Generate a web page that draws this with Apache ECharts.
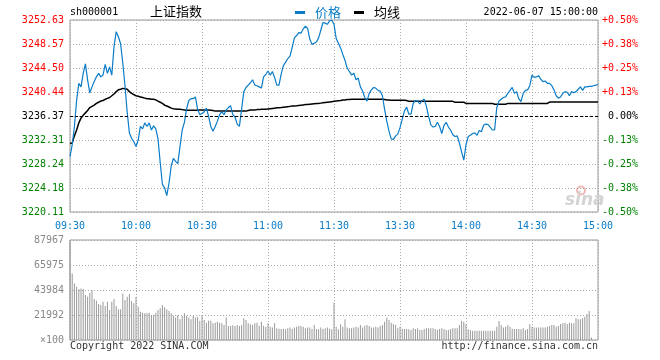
<!DOCTYPE html>
<html><head><meta charset="utf-8">
<script src="https://cdn.jsdelivr.net/npm/echarts@6/dist/echarts.min.js"></script>
<style>html,body{margin:0;padding:0;background:#fff}#c{width:660px;height:360px}</style>
</head><body><div id="c"></div>
<script>
const PRE_CLOSE = 3236.37;
const P_MIN = 3220.11, P_MAX = 3252.63, P_STEP = 4.065;
const priceTicks = ['3220.11','3224.18','3228.24','3232.31','3236.37','3240.44','3244.50','3248.57','3252.63'];
const pctTicks = ['-0.50%','-0.38%','-0.25%','-0.13%','0.00%','+0.13%','+0.25%','+0.38%','+0.50%'];
const timeLabels = ['09:30','10:00','10:30','11:00','11:30','13:30','14:00','14:30','15:00'];
const V_MAX = 87967, V_STEP = 21991.75;
const volTicks = ['\u00d7100','21992','43984','65975','87967'];

const price = [
3229.5,3231.5,3234.5,3239.0,3241.9,3241.3,3243.6,3245.2,3242.5,3240.3,
3241.3,3242.2,3243.0,3243.6,3243.0,3243.3,3245.1,3243.6,3244.7,3243.3,
3248.1,3250.65,3249.8,3248.6,3245.3,3241.5,3237.0,3233.5,3232.6,3232.0,
3231.2,3232.3,3234.6,3234.2,3235.2,3234.6,3235.2,3234.0,3234.7,3234.2,
3232.5,3228.5,3224.8,3224.2,3222.9,3225.0,3227.9,3229.2,3228.7,3228.3,
3231.2,3234.0,3235.3,3237.6,3239.0,3239.3,3239.3,3239.6,3237.5,3236.6,
3236.8,3237.1,3237.7,3236.3,3234.6,3233.8,3234.6,3235.5,3236.6,3237.1,
3236.6,3237.4,3237.8,3238.1,3236.6,3236.2,3235.0,3234.6,3237.5,3240.5,
3241.2,3241.6,3242.0,3242.5,3241.6,3241.5,3241.3,3241.1,3243.0,3243.4,
3244.0,3243.3,3243.9,3242.9,3241.6,3241.6,3243.5,3244.9,3245.5,3246.1,
3246.5,3248.0,3249.6,3250.0,3250.5,3250.4,3251.1,3251.6,3251.2,3249.4,
3248.5,3248.7,3248.9,3249.6,3250.9,3252.2,3252.1,3251.9,3252.5,3252.6,
3251.9,3249.5,3248.7,3247.9,3246.8,3245.8,3244.5,3243.9,3243.3,3243.6,
3242.5,3242.8,3241.3,3240.6,3239.5,3238.9,3240.2,3240.8,3241.2,3241.1,
3240.7,3240.6,3239.8,3237.5,3235.5,3233.8,3232.5,3232.4,3233.0,3233.3,
3234.4,3235.8,3237.2,3237.9,3236.7,3236.7,3238.5,3239.0,3238.9,3238.4,
3239.0,3239.2,3238.0,3236.3,3234.9,3234.5,3234.6,3235.3,3234.6,3233.4,
3234.8,3235.3,3234.5,3234.0,3233.2,3232.9,3233.0,3231.8,3230.3,3228.9,
3231.5,3232.9,3233.1,3233.4,3233.5,3233.1,3233.9,3233.7,3234.8,3235.0,
3234.9,3234.5,3234.0,3234.0,3237.8,3238.9,3239.2,3239.5,3239.6,3240.2,
3240.7,3241.2,3240.2,3240.5,3239.3,3238.8,3240.2,3240.7,3240.8,3241.5,
3243.3,3242.9,3243.0,3243.2,3242.6,3242.2,3242.3,3241.9,3241.9,3241.5,
3240.8,3239.8,3239.4,3239.6,3240.2,3240.5,3240.4,3239.8,3240.5,3240.3,
3240.5,3240.9,3241.3,3240.7,3241.3,3241.3,3241.4,3241.4,3241.5,3241.6,
3241.7];

const avg = [
3231.7,3231.8,3233.0,3234.0,3235.2,3236.0,3236.5,3236.9,3237.3,3237.8,
3238.0,3238.2,3238.5,3238.7,3238.9,3239.0,3239.2,3239.35,3239.5,3239.8,
3240.1,3240.5,3240.8,3240.9,3241.05,3241.0,3240.9,3240.5,3240.2,3240.0,
3239.8,3239.7,3239.6,3239.5,3239.4,3239.3,3239.3,3239.2,3239.2,3239.1,
3238.9,3238.7,3238.5,3238.2,3238.06,3237.9,3237.7,3237.6,3237.55,3237.5,
3237.5,3237.45,3237.4,3237.35,3237.35,3237.35,3237.35,3237.35,3237.35,3237.4,
3237.4,3237.4,3237.4,3237.4,3237.35,3237.3,3237.2,3237.2,3237.2,3237.2,
3237.2,3237.2,3237.2,3237.2,3237.2,3237.2,3237.2,3237.2,3237.2,3237.2,
3237.2,3237.3,3237.4,3237.4,3237.4,3237.45,3237.45,3237.5,3237.5,3237.5,
3237.55,3237.6,3237.65,3237.7,3237.75,3237.78,3237.8,3237.85,3237.9,3237.95,
3238.0,3238.05,3238.06,3238.1,3238.15,3238.2,3238.25,3238.3,3238.3,3238.35,
3238.4,3238.45,3238.5,3238.5,3238.55,3238.6,3238.65,3238.7,3238.75,3238.8,
3238.85,3238.9,3238.95,3239.0,3239.08,3239.1,3239.15,3239.15,3239.2,3239.2,
3239.2,3239.2,3239.2,3239.2,3239.2,3239.2,3239.2,3239.2,3239.2,3239.2,
3239.2,3239.2,3239.2,3239.15,3239.1,3239.08,3239.05,3239.02,3239.02,3239.02,
3239.02,3239.02,3239.02,3239.0,3238.85,3238.85,3238.85,3238.85,3238.85,3238.85,
3238.85,3238.85,3238.85,3238.85,3238.85,3238.85,3238.85,3238.85,3238.85,3238.85,
3238.85,3238.85,3238.85,3238.85,3238.85,3238.7,3238.7,3238.7,3238.7,3238.7,
3238.5,3238.5,3238.5,3238.5,3238.5,3238.5,3238.5,3238.5,3238.5,3238.5,
3238.5,3238.5,3238.5,3238.35,3238.35,3238.35,3238.35,3238.35,3238.35,3238.5,
3238.5,3238.5,3238.5,3238.5,3238.5,3238.5,3238.5,3238.5,3238.5,3238.5,
3238.5,3238.5,3238.5,3238.5,3238.5,3238.5,3238.5,3238.5,3238.74,3238.74,
3238.74,3238.74,3238.74,3238.74,3238.74,3238.74,3238.74,3238.74,3238.74,3238.74,
3238.74,3238.74,3238.74,3238.74,3238.74,3238.74,3238.74,3238.74,3238.74,3238.74,
3238.74];

const volume = [
87967,58600,49800,46900,44600,45200,44900,39600,38100,41600,
44000,36100,34600,31700,30800,33700,29900,33700,26400,33700,
36100,29900,27000,27000,41000,35200,38100,40500,34300,32300,
38100,29300,24900,24000,23500,23500,24000,22000,22000,24000,
26400,27900,30800,28700,27000,25500,23500,21100,19900,22000,
18200,21100,23500,21100,19900,18200,21100,19900,20500,17000,
22000,17600,15200,17000,17000,14700,15200,16100,15200,14700,
13200,19900,12300,12300,12900,12300,13200,12300,13200,19100,
17600,14700,13800,13200,14700,15200,12600,16100,12600,11700,
14700,11700,11100,14700,10300,10000,9700,10000,9400,10300,
11100,10000,11100,11700,12600,12300,11700,10300,10900,11100,
9700,13200,9700,9400,10900,9700,10300,11100,10000,9400,
32800,11700,9400,13800,11700,18200,11100,10300,10300,11100,
11700,11100,13200,10900,12600,13200,12300,10900,11100,11700,
11100,12300,13200,16100,19900,17600,15200,14100,13200,10300,
11700,10000,9700,9700,9400,8800,10300,9700,10300,8800,
8800,9700,10300,10300,10300,10300,9700,9100,9700,10300,
9700,8800,8800,9700,10300,10300,10300,13200,17000,16100,
13800,9400,8800,8200,8200,8200,8200,8200,8200,8200,
8200,8200,8200,8200,11700,16700,13200,10900,11700,13200,
11700,10000,9700,9700,9700,9400,10300,8800,9700,13800,
11700,10900,10900,11100,11100,10900,10900,11700,12300,13200,
13200,11700,12300,14100,14700,15200,14100,15200,14700,14700,
19100,18200,18200,19100,20500,22900,25500,2300,null,null,
null];

// minute categories 09:30..11:30, 13:01..15:00
const cats = [];
for (let m = 0; m <= 240; m++) {
  const t = m <= 120 ? 570 + m : 780 + (m - 120);
  const h = Math.floor(t / 60), mi = t % 60;
  cats.push((h < 10 ? '0' : '') + h + ':' + (mi < 10 ? '0' : '') + mi);
}

const MONO = 'DejaVu Sans Mono';
const BLUE = '#0a7cc8';
const GRID_LINE = {show: true, interval: 29, lineStyle: {color: '#aaa', type: [1, 2], width: 1}};
const H_LINE = {show: true, lineStyle: {color: '#aaa', type: [1, 2], width: 1}};
function pIdx(v) { return Math.round((v - P_MIN) / P_STEP); }
function sideColor(i) { return i > 4 ? '#ff0000' : (i < 4 ? '#008000' : '#000'); }

const chart = echarts.init(document.getElementById('c'), null, {renderer: 'canvas'});
chart.setOption({
  animation: false,
  backgroundColor: '#fff',
  grid: [
    {left: 70, top: 20, width: 528, height: 192, show: true, borderColor: '#999', borderWidth: 1},
    {left: 70, top: 240, width: 528, height: 100, show: true, borderColor: '#999', borderWidth: 1}
  ],
  legend: {
    left: 295, top: 6, padding: 0, itemWidth: 10, itemHeight: 3, itemGap: 13, icon: 'rect',
    selectedMode: false,
    textStyle: {fontSize: 13, fontFamily: 'Noto Sans CJK SC', padding: [0, 0, 0, 5]},
    data: [{name: '价格', textStyle: {color: BLUE}}, {name: '均线', textStyle: {color: '#000'}}]
  },
  xAxis: [
    {type: 'category', gridIndex: 0, data: cats, boundaryGap: false,
     axisLine: {show: false}, axisTick: {show: false},
     axisLabel: {interval: 29, color: BLUE, fontFamily: MONO, fontSize: 10, margin: 9,
       formatter: (v, i) => timeLabels[Math.round(i / 30)]},
     splitLine: GRID_LINE},
    {type: 'category', gridIndex: 1, data: cats, boundaryGap: false,
     axisLine: {show: false}, axisTick: {show: false}, axisLabel: {show: false},
     splitLine: GRID_LINE}
  ],
  yAxis: [
    {type: 'value', gridIndex: 0, min: P_MIN, max: P_MAX, interval: P_STEP, position: 'left',
     axisLine: {show: false}, axisTick: {show: false}, splitLine: H_LINE,
     axisLabel: {fontFamily: MONO, fontSize: 10, margin: 6,
       formatter: v => priceTicks[pIdx(v)], color: v => sideColor(pIdx(v))}},
    {type: 'value', gridIndex: 0, min: P_MIN, max: P_MAX, interval: P_STEP, position: 'right',
     axisLine: {show: false}, axisTick: {show: false}, splitLine: {show: false},
     axisLabel: {fontFamily: MONO, fontSize: 10, margin: 40, align: 'right',
       formatter: v => pctTicks[pIdx(v)], color: v => sideColor(pIdx(v))}},
    {type: 'value', gridIndex: 1, min: 0, max: V_MAX, interval: V_STEP, position: 'left',
     axisLine: {show: false}, axisTick: {show: false}, splitLine: H_LINE,
     axisLabel: {fontFamily: MONO, fontSize: 10, margin: 6, color: '#888',
       formatter: v => volTicks[Math.round(v / V_STEP)]}}
  ],
  series: [
    {name: '均线', type: 'line', xAxisIndex: 0, yAxisIndex: 0, data: avg, symbol: 'none',
     color: '#000', lineStyle: {color: '#000', width: 1.5}, z: 3},
    {name: '价格', type: 'line', xAxisIndex: 0, yAxisIndex: 0, data: price, symbol: 'none',
     color: BLUE, lineStyle: {color: BLUE, width: 1.2}, z: 4,
     markLine: {silent: true, symbol: 'none', label: {show: false},
       lineStyle: {color: '#000', type: [3, 2], width: 1},
       data: [{yAxis: PRE_CLOSE}]}},
    {name: '成交量', type: 'bar', xAxisIndex: 1, yAxisIndex: 2, data: volume, barWidth: 1,
     itemStyle: {color: '#999'}, z: 2}
  ],
  graphic: [
    {type: 'text', left: 70, top: 7, style: {text: 'sh000001', font: '10px ' + MONO, fill: '#000'}},
    {type: 'text', left: 150, top: 5, style: {text: '上证指数', font: '13px "Noto Sans CJK SC"', fill: '#000'}},
    {type: 'text', right: 62, top: 7, style: {text: '2022-06-07 15:00:00', font: '10px ' + MONO, fill: '#000'}},
    {type: 'text', left: 70, top: 341, style: {text: 'Copyright 2022 SINA.COM', font: '10px ' + MONO, fill: '#333'}},
    {type: 'text', right: 62, top: 341, style: {text: 'http://finance.sina.com.cn', font: '10px ' + MONO, fill: '#333'}},
    {type: 'group', left: 565, top: 184, children: [
      {type: 'circle', shape: {cx: 16, cy: 6, r: 4}, style: {fill: 'none', stroke: '#f2b8b8', lineWidth: 2}},
      {type: 'text', x: 0, y: 8, style: {text: 'sina', font: 'italic bold 17px "DejaVu Sans"', fill: '#d4d4d4'}}
    ]}
  ]
});
</script></body></html>
